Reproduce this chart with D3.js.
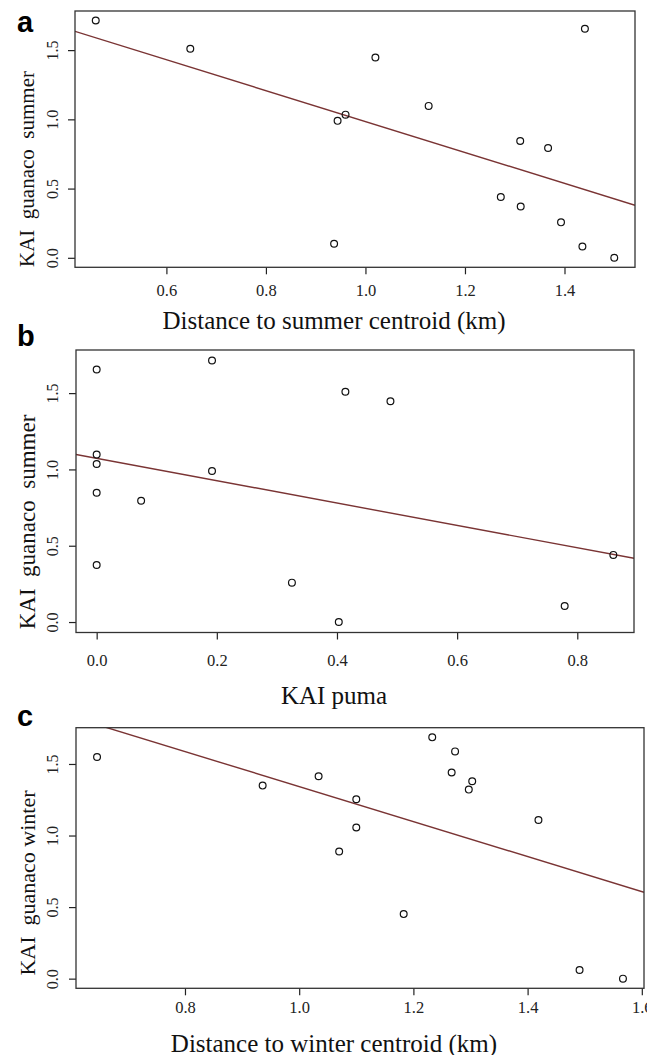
<!DOCTYPE html>
<html>
<head>
<meta charset="utf-8">
<script src="https://cdn.jsdelivr.net/npm/d3@7"></script>
<style>
  html, body { margin: 0; padding: 0; background: #fff; }
  svg { display: block; }
  svg text { font-family: 'Liberation Serif', 'Times New Roman', serif; }
  svg text.letter { font-family: 'Liberation Sans', Arial, sans-serif; }
</style>
</head>
<body>
<svg id="chart" width="647" height="1055"></svg>
<script>
// ---------- DATA ----------
// Panel a: KAI guanaco summer vs distance to summer centroid (km)
const aDistance = [0.458, 0.648, 1.020, 0.960, 0.944, 1.127, 1.311, 1.367, 1.441, 1.272, 1.312, 1.393, 1.436, 1.500, 0.937];
const aKaiGuanaco = [1.714, 1.510, 1.447, 1.034, 0.989, 1.097, 0.844, 0.793, 1.654, 0.439, 0.371, 0.256, 0.082, 0.000, 0.101];
const aFit = { intercept: 2.100, slope: -1.116 };
const aXTicks = [0.6, 0.8, 1.0, 1.2, 1.4];

// Panel b: KAI guanaco summer vs KAI puma
const bKaiPuma = [0.000, 0.192, 0.414, 0.489, 0.000, 0.000, 0.192, 0.000, 0.074, 0.000, 0.325, 0.403, 0.779, 0.860];
const bKaiGuanaco = [1.655, 1.714, 1.509, 1.447, 1.097, 1.036, 0.990, 0.847, 0.795, 0.374, 0.258, 0.000, 0.105, 0.440];
const bFit = { intercept: 1.073, slope: -0.733 };
const bXTicks = [0.0, 0.2, 0.4, 0.6, 0.8];

// Panel c: KAI guanaco winter vs distance to winter centroid (km)
const cDistance = [0.646, 0.936, 1.034, 1.100, 1.100, 1.070, 1.183, 1.233, 1.273, 1.267, 1.303, 1.297, 1.419, 1.491, 1.567];
const cKaiGuanaco = [1.549, 1.349, 1.414, 1.253, 1.056, 0.888, 0.451, 1.686, 1.588, 1.440, 1.379, 1.321, 1.109, 0.060, 0.000];
const cFit = { intercept: 2.565, slope: -1.223 };
const cXTicks = [0.8, 1.0, 1.2, 1.4, 1.6];

const yTicks = [0.0, 0.5, 1.0, 1.5];
const panelLetters = ["a", "b", "c"];
const xTitles = ["Distance to summer centroid (km)", "KAI puma", "Distance to winter centroid (km)"];
const yTitles = ["KAI  guanaco  summer", "KAI  guanaco  summer", "KAI  guanaco winter"];

// ---------- LAYOUT ----------
const layouts = [
  { left: 75, right: 635, top: 11,    bottom: 267.3, tickLabY: 291,  titleY: 320,  letterY: 32,  yTitleY: 169, yTitleSize: 21 },
  { left: 76, right: 634, top: 350,   bottom: 632.5, tickLabY: 660,  titleY: 695,  letterY: 346, yTitleY: 522, yTitleSize: 23 },
  { left: 76, right: 644, top: 727.7, bottom: 988.3, tickLabY: 1008, titleY: 1043, letterY: 726, yTitleY: 883, yTitleSize: 22 }
];

const panels = [
  { x: aDistance, y: aKaiGuanaco, fit: aFit, xTicks: aXTicks },
  { x: bKaiPuma, y: bKaiGuanaco, fit: bFit, xTicks: bXTicks },
  { x: cDistance, y: cKaiGuanaco, fit: cFit, xTicks: cXTicks }
];

const svg = d3.select("#chart");
const fmt = d3.format(".1f");

// R-style 4% range extension
function padded(vals) {
  const [lo, hi] = d3.extent(vals);
  const p = (hi - lo) * 0.04;
  return [lo - p, hi + p];
}

panels.forEach((P, i) => {
  const L = layouts[i];
  const x = d3.scaleLinear().domain(padded(P.x)).range([L.left, L.right]);
  const y = d3.scaleLinear().domain(padded(P.y)).range([L.bottom, L.top]);
  const g = svg.append("g");

  const clipId = "clip" + i;
  svg.append("clipPath").attr("id", clipId).append("rect")
    .attr("x", L.left).attr("y", L.top)
    .attr("width", L.right - L.left).attr("height", L.bottom - L.top);

  // regression line
  const xd = x.domain();
  const lineData = xd.map(v => [v, P.fit.intercept + P.fit.slope * v]);
  g.append("path")
    .attr("clip-path", `url(#${clipId})`)
    .attr("d", d3.line().x(d => x(d[0])).y(d => y(d[1]))(lineData))
    .attr("fill", "none")
    .attr("stroke", "#7a3434")
    .attr("stroke-width", 1.4);

  // points
  g.selectAll("circle.pt").data(P.x.map((v, k) => [v, P.y[k]]))
    .enter().append("circle")
    .attr("class", "pt")
    .attr("cx", d => x(d[0]))
    .attr("cy", d => y(d[1]))
    .attr("r", 3.4)
    .attr("fill", "none")
    .attr("stroke", "#111")
    .attr("stroke-width", 1.2);

  // x axis
  const xAxis = g.append("g")
    .attr("transform", `translate(0,${L.bottom})`)
    .call(d3.axisBottom(x).tickValues(P.xTicks).tickFormat(fmt).tickSize(7).tickSizeOuter(0));
  xAxis.attr("font-family", null).attr("font-size", null);
  xAxis.select(".domain").remove();
  xAxis.selectAll(".tick line").attr("stroke", "#222").attr("stroke-width", 1.2);
  xAxis.selectAll(".tick text")
    .attr("y", L.tickLabY - L.bottom)
    .attr("dy", null)
    .attr("dominant-baseline", "central")
    .style("font-size", "16.5px")
    .attr("fill", "#222");

  // y axis
  const yAxis = g.append("g")
    .attr("transform", `translate(${L.left},0)`)
    .call(d3.axisLeft(y).tickValues(yTicks).tickFormat(fmt).tickSize(7).tickSizeOuter(0));
  yAxis.attr("font-family", null).attr("font-size", null);
  yAxis.select(".domain").remove();
  yAxis.selectAll(".tick line").attr("stroke", "#222").attr("stroke-width", 1.2);
  yAxis.selectAll(".tick text")
    .attr("x", null).attr("dy", null)
    .attr("text-anchor", "middle")
    .attr("dominant-baseline", "central")
    .attr("transform", `translate(${52 - L.left},0) rotate(-90)`)
    .style("font-size", "16px")
    .attr("fill", "#222");

  // box
  g.append("rect")
    .attr("x", L.left).attr("y", L.top)
    .attr("width", L.right - L.left).attr("height", L.bottom - L.top)
    .attr("fill", "none").attr("stroke", "#333").attr("stroke-width", 1.3);

  // x title
  g.append("text")
    .attr("x", 334)
    .attr("y", L.titleY)
    .attr("text-anchor", "middle")
    .attr("dominant-baseline", "central")
    .style("font-size", "25px")
    .attr("fill", "#111")
    .text(xTitles[i]);

  // y title
  g.append("text")
    .attr("transform", `translate(27,${L.yTitleY}) rotate(-90)`)
    .attr("text-anchor", "middle")
    .attr("dominant-baseline", "central")
    .style("font-size", L.yTitleSize + "px")
    .attr("fill", "#111")
    .style("white-space", "pre")
    .text(yTitles[i]);

  // panel letter
  g.append("text")
    .attr("class", "letter")
    .attr("x", 17)
    .attr("y", L.letterY)
    .attr("font-weight", "bold")
    .style("font-size", "29px")
    .attr("fill", "#000")
    .text(panelLetters[i]);
});
</script>
</body>
</html>
